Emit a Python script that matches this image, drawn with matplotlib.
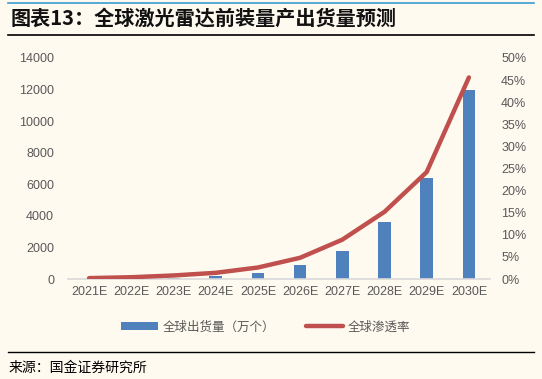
import matplotlib
matplotlib.use('Agg')
import matplotlib.pyplot as plt
from matplotlib.lines import Line2D
from matplotlib.patches import Patch
import numpy as np

plt.rcParams['font.family'] = ['Noto Sans CJK SC', 'DejaVu Sans']

# 数据
years = ['2021E', '2022E', '2023E', '2024E', '2025E', '2026E', '2027E', '2028E', '2029E', '2030E']
shipments = [20, 40, 80, 190, 380, 880, 1800, 3600, 6400, 12000]   # 万个
penetration = [0.2, 0.4, 0.8, 1.4, 2.6, 4.8, 8.9, 15.2, 24.2, 45.6]  # %

bg = '#FFFAF0'
blue = '#4F81BD'
red = '#C0504D'
grey_txt = '#595959'

fig = plt.figure(figsize=(5.42, 3.79), dpi=100, facecolor=bg)

# 顶部/底部装饰线和标题
fig.add_artist(Line2D([0.015, 0.985], [0.992, 0.992], color='#3C9AD6', lw=1.2))
fig.add_artist(Line2D([0.015, 0.985], [0.908, 0.908], color='black', lw=1.2))
fig.add_artist(Line2D([0.015, 0.985], [0.072, 0.072], color='black', lw=1.0))
fig.text(0.02, 0.952, '图表13：全球激光雷达前装量产出货量预测', fontsize=14.5,
         fontweight='bold', style='italic', va='center', ha='left', color='#111111')
fig.text(0.015, 0.030, '来源：国金证券研究所', fontsize=10, va='center', ha='left', color='black')

ax = fig.add_axes([68 / 542, 1 - 279 / 379, (490 - 68) / 542, (279 - 58) / 379])
ax.set_facecolor(bg)
x = np.arange(len(years))
ax.bar(x, shipments, width=0.3, color=blue, zorder=2)
ax.set_xlim(-0.5, len(years) - 0.5)
ax.set_ylim(0, 14000)
ax.set_yticks(np.arange(0, 14001, 2000))
ax.set_xticks(x)
ax.set_xticklabels(years)

ax2 = ax.twinx()
ax2.plot(x, penetration, color=red, lw=3.2, solid_capstyle='round', zorder=3)
ax2.set_ylim(0, 50)
ax2.set_yticks(np.arange(0, 51, 5))
ax2.set_yticklabels([f'{v}%' for v in range(0, 51, 5)])

for a in (ax, ax2):
    for s in a.spines.values():
        s.set_visible(False)
    a.tick_params(length=0, labelsize=9, colors=grey_txt)
    for lab in a.get_xticklabels() + a.get_yticklabels():
        lab.set_family(['Liberation Sans', 'DejaVu Sans'])
ax.spines['bottom'].set_visible(True)
ax.spines['bottom'].set_color('#D9D9D9')
ax.spines['bottom'].set_linewidth(1.2)
ax.tick_params(axis='y', pad=10)
ax.tick_params(axis='x', pad=5)
ax2.tick_params(axis='y', pad=8)

handles = [Patch(facecolor=blue, edgecolor='none'),
           Line2D([0], [0], color=red, lw=3.2, solid_capstyle='round')]
fig.legend(handles, ['全球出货量（万个）', '全球渗透率'], loc='center',
           bbox_to_anchor=(0.49, 0.137), ncol=2, frameon=False, fontsize=9,
           handlelength=3.0, handleheight=0.6, handletextpad=0.4,
           columnspacing=2.4, labelcolor=grey_txt)

fig.savefig('out.png', dpi=100, facecolor=bg)
plt.close(fig)
